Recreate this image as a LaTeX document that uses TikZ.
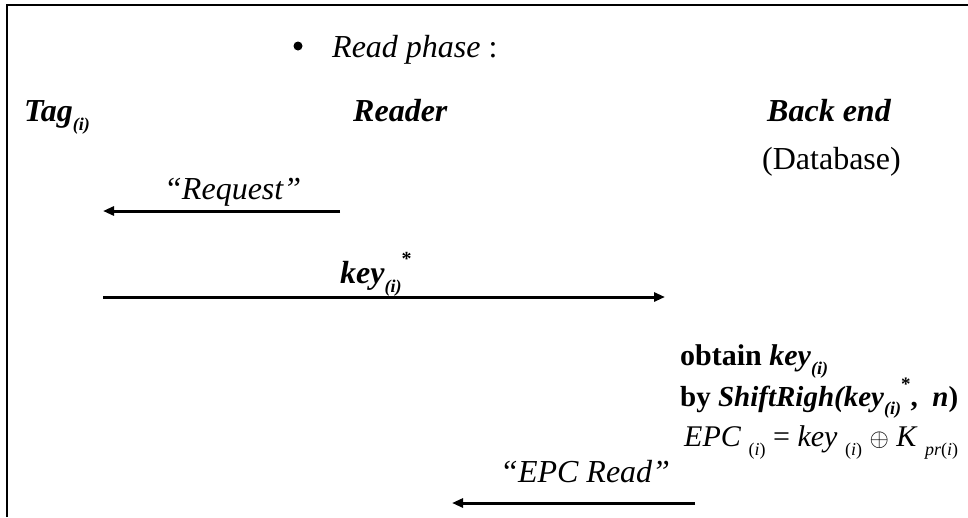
\documentclass[tikz,border=0pt]{standalone}
\usepackage{fontspec}
\setmainfont{Liberation Serif}
\usetikzlibrary{arrows.meta}
\newcommand{\bsub}[1]{\raisebox{-0.3em}{\fontsize{18}{18}\selectfont\bfseries\itshape #1}}
\newcommand{\rsub}[1]{\raisebox{-0.3em}{\fontsize{18}{18}\selectfont #1}}
\tikzset{
  big/.style={inner sep=0pt, anchor=base west, font=\fontsize{32}{32}\selectfont},
  msg/.style={line width=3pt, -{Triangle[length=11pt,width=9pt]}},
  frame/.style={line width=1.5pt}
}
\begin{document}
\begin{tikzpicture}[x=1pt,y=-1pt]
\useasboundingbox (0,0) rectangle (968,517);
\draw[frame] (7,517) -- (7,5) -- (968,5);
\fill (298,46) circle (4.5pt);
\node[big] (phase) at (332,57) {\textit{Read phase} :};
\node[big] (tag) at (24,121) {\textbf{\textit{Tag}}\bsub{(i)}};
\node[big] (reader) at (353,121) {\textbf{\textit{Reader}}};
\node[big] (back) at (767,121) {\textbf{\textit{Back end}}};
\node[big] (db) at (762,169) {(Database)};
\node[big] (req) at (164,199) {\textit{“Request”}};
\coordinate (r1) at (340,211);
\coordinate (r2) at (103,211);
\draw[msg] (r1) -- (r2);
\node[big] (key) at (340,283) {\textbf{\textit{key}}\bsub{(i)}\raisebox{0.55em}{\fontsize{20}{20}\selectfont\bfseries *}};
\coordinate (k1) at (103,297);
\coordinate (k2) at (665,297);
\draw[msg] (k1) -- (k2);
\node[big, font=\fontsize{30}{30}\selectfont] (obt) at (680,365) {\textbf{obtain \textit{key}}\bsub{(i)}};
\node[big, font=\fontsize{29}{29}\selectfont] (shift) at (680,406) {\textbf{by \textit{ShiftRigh(key}}\bsub{(i)}\raisebox{0.55em}{\fontsize{19}{19}\selectfont\bfseries *}\textbf{,\ \ \textit{n})}};
\node[big, font=\fontsize{30}{30}\selectfont] (epc) at (684,446) {\textit{EPC}\ \rsub{(\textit{i})} = \textit{key}\ \rsub{(\textit{i})} $\oplus$ \textit{K}\ \rsub{\textit{pr}(\textit{i})}};
\node[big] (epcr) at (500,482) {\textit{“EPC Read”}};
\coordinate (e1) at (695,503);
\coordinate (e2) at (452,503);
\draw[msg] (e1) -- (e2);
\end{tikzpicture}
\end{document}
